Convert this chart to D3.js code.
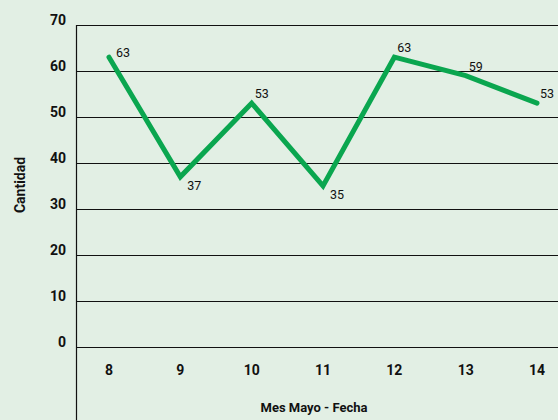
<!DOCTYPE html>
<html>
<head>
<meta charset="utf-8">
<script src="https://cdn.jsdelivr.net/npm/d3@7"></script>
<style>
  body { margin: 0; background: #e2efe4; }
  svg { display: block; font-family: Roboto, "Liberation Sans", sans-serif; }
</style>
</head>
<body>
<svg id="chart" width="558" height="420"></svg>
<script>
const days = [8, 9, 10, 11, 12, 13, 14];
const cantidad = [63, 37, 53, 35, 63, 59, 53];
const yTicks = [0, 10, 20, 30, 40, 50, 60, 70];

const W = 558, H = 420,
    plotLeft = 76, plotTop = 25, plotBottom = 347;

const svg = d3.select('#chart');

const x = d3.scalePoint().domain(days).range([109, 537]);
const y = d3.scaleLinear().domain([0, 70]).range([plotBottom, plotTop]);

// gridlines
svg.append('g')
    .selectAll('line')
    .data(yTicks)
    .enter()
    .append('line')
    .attr('x1', plotLeft)
    .attr('x2', W)
    .attr('y1', d => y(d) + 0.5)
    .attr('y2', d => y(d) + 0.5)
    .attr('stroke', '#111')
    .attr('stroke-width', 1.2);

// vertical axis line
svg.append('line')
    .attr('x1', plotLeft + 0.5).attr('x2', plotLeft + 0.5)
    .attr('y1', plotTop).attr('y2', H)
    .attr('stroke', '#111')
    .attr('stroke-width', 1.2);

// y tick labels
svg.append('g')
    .selectAll('text')
    .data(yTicks)
    .enter()
    .append('text')
    .attr('x', 66)
    .attr('y', d => y(d))
    .attr('text-anchor', 'end')
    .attr('font-size', 14)
    .attr('font-weight', 'bold')
    .attr('fill', '#111')
    .text(d => d);

// x tick labels
svg.append('g')
    .selectAll('text')
    .data(days)
    .enter()
    .append('text')
    .attr('x', d => x(d))
    .attr('y', 375)
    .attr('text-anchor', 'middle')
    .attr('font-size', 14)
    .attr('font-weight', 'bold')
    .attr('fill', '#111')
    .text(d => d);

// axis titles
svg.append('text')
    .attr('x', 314)
    .attr('y', 412)
    .attr('text-anchor', 'middle')
    .attr('font-size', 13)
    .attr('font-weight', 'bold')
    .attr('fill', '#111')
    .text('Mes Mayo - Fecha');

svg.append('text')
    .attr('transform', 'translate(25,185) rotate(-90)')
    .attr('text-anchor', 'middle')
    .attr('font-size', 14)
    .attr('font-weight', 'bold')
    .attr('fill', '#111')
    .text('Cantidad');

// line
const pts = days.map((d, i) => ({ day: d, v: cantidad[i], i }));

svg.append('path')
    .datum(pts)
    .attr('fill', 'none')
    .attr('stroke', '#0aa64f')
    .attr('stroke-width', 5)
    .attr('stroke-linejoin', 'miter')
    .attr('stroke-linecap', 'round')
    .attr('d', d3.line().x(d => x(d.day)).y(d => y(d.v)));

// value labels: below for local minima, above otherwise
const isMin = d => d.i > 0 && d.i < cantidad.length - 1
    && d.v < cantidad[d.i - 1] && d.v < cantidad[d.i + 1];

svg.append('g')
    .selectAll('text')
    .data(pts)
    .enter()
    .append('text')
    .attr('x', d => x(d.day) + (isMin(d) ? 7 : (d.i === 0 ? 7 : 3)))
    .attr('y', d => y(d.v) + (isMin(d) ? 13 : (d.i === 0 ? 0 : -5)))
    .attr('font-size', 12.5)
    .attr('fill', '#111')
    .text(d => d.v);
</script>
</body>
</html>
